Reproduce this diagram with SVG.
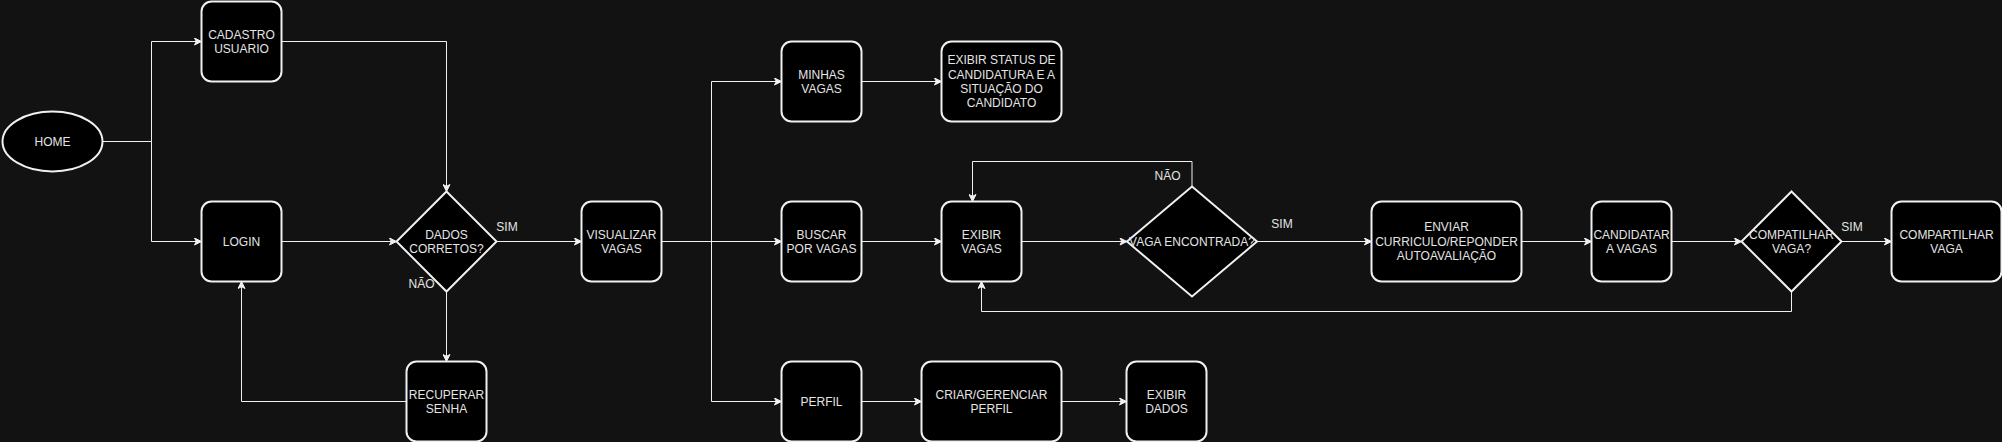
<svg xmlns="http://www.w3.org/2000/svg" width="2002" height="442" viewBox="0 0 2002 442">
<style>
.n{fill:#000000;stroke:#f0f0f0;stroke-width:2}
.t{fill:#e4e4e4;font-family:"Liberation Sans",Arial,sans-serif;font-size:12px;text-anchor:middle}
.e{fill:none;stroke:#f0f0f0;stroke-width:1}
</style>
<defs>
<marker id="a" markerUnits="userSpaceOnUse" viewBox="-8 -4 9 8" refX="0" refY="0" markerWidth="9" markerHeight="8" orient="auto">
<path d="M-7,-3.5 L0,0 L-7,3.5 L-5.2,0 Z" fill="#f0f0f0" stroke="#f0f0f0" stroke-width="1"/>
</marker>
</defs>
<rect x="0" y="0" width="2002" height="442" fill="#121212"/>
<g transform="translate(0.5,0.5)">
<g id="connectors">
<path class="e" d="M102,141 H151 V41 H201" marker-end="url(#a)"/>
<path class="e" d="M102,141 H151 V241 H201" marker-end="url(#a)"/>
<path class="e" d="M281,41 H446 V191" marker-end="url(#a)"/>
<path class="e" d="M281,241 H396" marker-end="url(#a)"/>
<path class="e" d="M446,291 V361" marker-end="url(#a)"/>
<path class="e" d="M406,401 H241 V281" marker-end="url(#a)"/>
<path class="e" d="M496,241 H581" marker-end="url(#a)"/>
<path class="e" d="M661,241 H711 V81 H781" marker-end="url(#a)"/>
<path class="e" d="M661,241 H781" marker-end="url(#a)"/>
<path class="e" d="M661,241 H711 V401 H781" marker-end="url(#a)"/>
<path class="e" d="M861,81 H941" marker-end="url(#a)"/>
<path class="e" d="M861,241 H941" marker-end="url(#a)"/>
<path class="e" d="M1021,241 H1126.5" marker-end="url(#a)"/>
<path class="e" d="M1191.5,186 V161 H972 V201" marker-end="url(#a)"/>
<path class="e" d="M1256.5,241 H1371" marker-end="url(#a)"/>
<path class="e" d="M1521,241 H1591" marker-end="url(#a)"/>
<path class="e" d="M1671,241 H1741" marker-end="url(#a)"/>
<path class="e" d="M1841,241 H1891" marker-end="url(#a)"/>
<path class="e" d="M1791,291 V311 H981 V281" marker-end="url(#a)"/>
<path class="e" d="M861,401 H921" marker-end="url(#a)"/>
<path class="e" d="M1061,401 H1126" marker-end="url(#a)"/>
<text class="t" x="506.5" y="230">SIM</text>
<text class="t" x="421" y="287.5">NÃO</text>
<text class="t" x="1167" y="179.5">NÃO</text>
<text class="t" x="1281.5" y="227.5">SIM</text>
<text class="t" x="1851.5" y="230">SIM</text>
</g>
<g id="home"><ellipse class="n" cx="52" cy="141" rx="50" ry="30"/><text class="t" x="52" y="145.3">HOME</text></g>
<g id="cadastro"><rect class="n" x="201" y="1" width="80" height="80" rx="10"/><text class="t" x="241" y="38">CADASTRO</text><text class="t" x="241" y="52.4">USUARIO</text></g>
<g id="login"><rect class="n" x="201" y="201" width="80" height="80" rx="10"/><text class="t" x="241" y="245.3">LOGIN</text></g>
<g id="dados"><polygon class="n" points="446,191 496,241 446,291 396,241"/><text class="t" x="446" y="238">DADOS</text><text class="t" x="446" y="252.4">CORRETOS?</text></g>
<g id="recuperar"><rect class="n" x="406" y="361" width="80" height="80" rx="10"/><text class="t" x="446" y="398">RECUPERAR</text><text class="t" x="446" y="412.4">SENHA</text></g>
<g id="visualizar"><rect class="n" x="581" y="201" width="80" height="80" rx="10"/><text class="t" x="621" y="238">VISUALIZAR</text><text class="t" x="621" y="252.4">VAGAS</text></g>
<g id="minhas"><rect class="n" x="781" y="41" width="80" height="80" rx="10"/><text class="t" x="821" y="78">MINHAS</text><text class="t" x="821" y="92.4">VAGAS</text></g>
<g id="status"><rect class="n" x="941" y="41" width="120" height="80" rx="10"/><text class="t" x="1001" y="63.7">EXIBIR STATUS DE</text><text class="t" x="1001" y="78.1">CANDIDATURA E A</text><text class="t" x="1001" y="92.5">SITUAÇÃO DO</text><text class="t" x="1001" y="106.9">CANDIDATO</text></g>
<g id="buscar"><rect class="n" x="781" y="201" width="80" height="80" rx="10"/><text class="t" x="821" y="238">BUSCAR</text><text class="t" x="821" y="252.4">POR VAGAS</text></g>
<g id="exibir-vagas"><rect class="n" x="941" y="201" width="80" height="80" rx="10"/><text class="t" x="981" y="238">EXIBIR</text><text class="t" x="981" y="252.4">VAGAS</text></g>
<g id="vaga-encontrada"><polygon class="n" points="1191.5,186 1256.5,241 1191.5,296 1126.5,241"/><text class="t" x="1191.5" y="245.3">VAGA ENCONTRADA?</text></g>
<g id="enviar"><rect class="n" x="1371" y="201" width="150" height="80" rx="10"/><text class="t" x="1446" y="230.9">ENVIAR</text><text class="t" x="1446" y="245.3">CURRICULO/REPONDER</text><text class="t" x="1446" y="259.7">AUTOAVALIAÇÃO</text></g>
<g id="candidatar"><rect class="n" x="1591" y="201" width="80" height="80" rx="10"/><text class="t" x="1631" y="238">CANDIDATAR</text><text class="t" x="1631" y="252.4">A VAGAS</text></g>
<g id="compatilhar"><polygon class="n" points="1791,191 1841,241 1791,291 1741,241"/><text class="t" x="1791" y="238">COMPATILHAR</text><text class="t" x="1791" y="252.4">VAGA?</text></g>
<g id="compartilhar"><rect class="n" x="1891" y="201" width="110" height="80" rx="10"/><text class="t" x="1946" y="238">COMPARTILHAR</text><text class="t" x="1946" y="252.4">VAGA</text></g>
<g id="perfil"><rect class="n" x="781" y="361" width="80" height="80" rx="10"/><text class="t" x="821" y="405.3">PERFIL</text></g>
<g id="criar"><rect class="n" x="921" y="361" width="140" height="80" rx="10"/><text class="t" x="991" y="398">CRIAR/GERENCIAR</text><text class="t" x="991" y="412.4">PERFIL</text></g>
<g id="exibir-dados"><rect class="n" x="1126" y="361" width="80" height="80" rx="10"/><text class="t" x="1166" y="398">EXIBIR</text><text class="t" x="1166" y="412.4">DADOS</text></g>
</g>
</svg>
